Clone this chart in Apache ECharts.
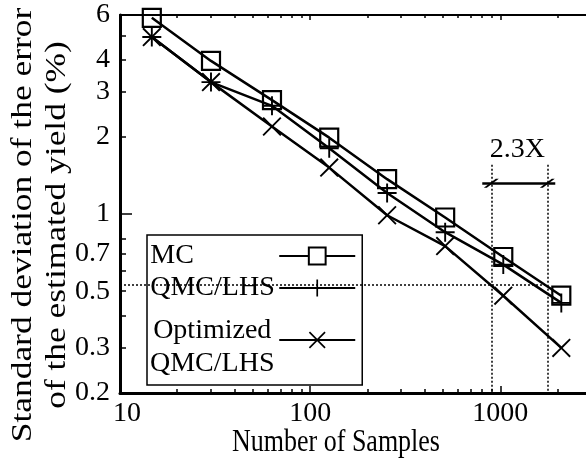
<!DOCTYPE html>
<html>
<head>
<meta charset="utf-8">
<script src="https://cdn.jsdelivr.net/npm/echarts@6/dist/echarts.min.js"></script>
<style>
  html, body { margin: 0; padding: 0; background: #fff; }
  #chart { width: 586px; height: 463px; }
</style>
</head>
<body>
<div id="chart"></div>
<script>
// samples on the x axis, std of the error (%) for each method
var sampleCounts = [14.7, 30.1, 63, 126, 254, 513, 1037, 2094];
var mcStd  = [5.85, 3.97, 2.79, 1.99, 1.37, 0.97, 0.68, 0.48];
var qmcStd = [4.92, 3.28, 2.65, 1.81, 1.21, 0.85, 0.635, 0.45];
var optStd = [4.92, 3.28, 2.20, 1.52, 0.99, 0.75, 0.48, 0.30];

var xMajorTicks = [10, 100, 1000];
var xMinorTicks = [20, 30, 40, 50, 60, 70, 80, 90, 200, 300, 400, 500, 600, 700, 800, 900, 2000, 3000];
var yLabels = [0.2, 0.3, 0.5, 0.7, 1, 2, 3, 4, 6];
var yMajorTicks = [1];
var yMinorTicks = [0.3, 0.4, 0.5, 0.6, 0.7, 0.8, 2, 3, 4, 5];

// "2.3X" annotation (data coordinates)
var speedupX = [897, 1767];
var speedupTop = 1.56;
var targetStd = 0.53;
var arrowY = 1.32;
var arrowX = [804, 1946];
var speedupText = '2.3X';
var speedupTextAt = [1228, 1.78];

var FONT = 'Liberation Serif';
var PLUS = 'path://M-1,-10L1,-10L1,-1L10,-1L10,1L1,1L1,10L-1,10L-1,1L-10,1L-10,-1L-1,-1Z';
var CROSS = 'path://M-10,-8.6L-8.6,-10L0,-1.4L8.6,-10L10,-8.6L1.4,0L10,8.6L8.6,10L0,1.4L-8.6,10L-10,8.6L-1.4,0Z';
var SLASH = 'path://M8,0L10,0L2,10L0,10Z';

function pairs(ys) {
    return sampleCounts.map(function (x, i) { return [x, ys[i]]; });
}
function fmt(v) { return String(+Number(v).toPrecision(3)); }
function fmtX(v) {
    var s = fmt(v);
    return s === '10' ? '{first|' + s + '}' : s;
}

var chart = echarts.init(document.getElementById('chart'));

function xAxisDef(pos, ticks, len, width, labels) {
    return {
        type: 'log', logBase: 10, min: 10, max: 3000, position: pos, gridIndex: 0,
        axisLine: { show: width > 0, lineStyle: { color: '#000', width: width } },
        axisTick: { show: true, inside: true, length: len, customValues: ticks,
                    lineStyle: { color: '#000', width: 1.5 } },
        axisLabel: labels ? {
            show: true, customValues: labels, formatter: fmtX, margin: 7,
            color: '#000', fontFamily: FONT, fontSize: 28,
            rich: { first: { padding: [0, 0, 0, 14], color: '#000', fontFamily: FONT, fontSize: 28 } }
        } : { show: false },
        splitLine: { show: false }, minorTick: { show: false }
    };
}
function yAxisDef(ticks, len, width, labels) {
    return {
        type: 'log', logBase: 10, min: 0.2, max: 6, position: 'left', offset: 0, gridIndex: 0,
        axisLine: { show: width > 0, lineStyle: { color: '#000', width: width } },
        axisTick: { show: true, inside: true, length: len, customValues: ticks,
                    lineStyle: { color: '#000', width: 1.5 } },
        axisLabel: labels ? {
            show: true, customValues: labels, formatter: fmt, margin: 10,
            color: '#000', fontFamily: FONT, fontSize: 28
        } : { show: false },
        splitLine: { show: false }, minorTick: { show: false }
    };
}

var lineStyle = { color: '#000', width: 2.5 };
var legendText = { fontSize: 28, fontFamily: FONT, color: '#000' };

var option = {
    animation: false,
    backgroundColor: '#fff',
    grid: { left: 120, top: 15, width: 471, height: 378, outerBoundsMode: 'none' },
    xAxis: [
        xAxisDef('bottom', xMajorTicks, 7, 3, xMajorTicks),
        xAxisDef('bottom', xMinorTicks, 4, 0, null),
        xAxisDef('top', xMajorTicks, 5, 2, null),
        xAxisDef('top', xMinorTicks, 3, 0, null)
    ],
    yAxis: [
        yAxisDef(yMajorTicks, 12, 3, yLabels),
        yAxisDef(yMinorTicks, 6, 0, null)
    ],
    legend: {
        data: [
            { name: 'MC', itemStyle: { color: '#fff' } },
            'QMC/LHS',
            'Optimized QMC/LHS'
        ],
        orient: 'vertical', align: 'right', left: 147, top: 235,
        itemGap: 4, itemWidth: 76, itemHeight: 21, padding: [7, 6, 7, 3],
        backgroundColor: '#fff', borderColor: '#000', borderWidth: 1.5,
        selectedMode: false,
        formatter: function (name) {
            if (name === 'Optimized QMC/LHS') return '{sp| }\n{c|Optimized}\n{c|QMC/LHS}';
            return '{a|' + name + '}';
        },
        textStyle: {
            color: '#000', fontFamily: FONT, fontSize: 28,
            rich: {
                a: echarts.util.extend({ width: 124, align: 'left', lineHeight: 21 }, legendText),
                c: echarts.util.extend({ width: 124, align: 'center', lineHeight: 33 }, legendText),
                sp: { width: 124, fontSize: 2, lineHeight: 15 }
            }
        }
    },
    graphic: [
        {
            type: 'text', x: 40, y: 225, rotation: Math.PI / 2, scaleX: 1.2,
            style: {
                text: 'Standard deviation of the error\nof the estimated yield (%)',
                fontFamily: FONT, fontSize: 29.5, lineHeight: 34, fill: '#000',
                align: 'center', verticalAlign: 'middle'
            }
        },
        {
            type: 'text', x: 336, y: 443, scaleY: 1.2,
            style: {
                text: 'Number of Samples', fontFamily: FONT, fontSize: 26, fill: '#000',
                align: 'center', verticalAlign: 'middle'
            }
        }
    ],
    series: [
        {
            name: 'MC', type: 'line', data: pairs(mcStd),
            symbol: 'rect', symbolSize: 18, showSymbol: true, silent: true,
            itemStyle: { color: 'rgba(0,0,0,0)', borderColor: '#000', borderWidth: 2.2 },
            lineStyle: lineStyle, emphasis: { disabled: true }
        },
        {
            name: 'QMC/LHS', type: 'line', data: pairs(qmcStd),
            symbol: PLUS, symbolSize: 19, silent: true,
            itemStyle: { color: '#000', borderWidth: 0 },
            lineStyle: lineStyle, emphasis: { disabled: true }
        },
        {
            name: 'Optimized QMC/LHS', type: 'line', data: pairs(optStd),
            symbol: CROSS, symbolSize: 19, silent: true,
            itemStyle: { color: '#000', borderWidth: 0 },
            lineStyle: lineStyle, emphasis: { disabled: true }
        },
        {
            name: 'annotation', type: 'line', data: [], z: 10, silent: true,
            markLine: {
                silent: true, symbol: 'none', animation: false,
                label: { show: false },
                lineStyle: { color: '#000', width: 1.5, type: [2, 2] },
                data: [
                    [{ coord: [speedupX[0], speedupTop] }, { coord: [speedupX[0], 0.2] }],
                    [{ coord: [speedupX[1], speedupTop] }, { coord: [speedupX[1], 0.2] }],
                    [{ coord: [10, targetStd] }, { coord: [speedupX[1], targetStd] }],
                    [{ coord: [arrowX[0], arrowY], lineStyle: { type: 'solid', width: 2.5 } },
                     { coord: [arrowX[1], arrowY] }]
                ]
            },
            markPoint: {
                silent: true, animation: false,
                data: [
                    { coord: [speedupX[0], arrowY], symbol: SLASH, symbolSize: [15, 9],
                      itemStyle: { color: '#000' }, label: { show: false } },
                    { coord: [speedupX[1], arrowY], symbol: SLASH, symbolSize: [15, 9],
                      itemStyle: { color: '#000' }, label: { show: false } },
                    { coord: speedupTextAt, symbol: 'circle', symbolSize: 0,
                      label: { show: true, position: 'inside', formatter: speedupText,
                               color: '#000', fontFamily: FONT, fontSize: 28 } }
                ]
            }
        }
    ]
};

chart.setOption(option);
</script>
</body>
</html>
